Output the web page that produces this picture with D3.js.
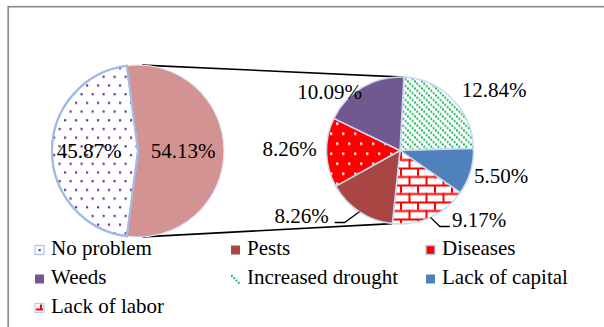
<!DOCTYPE html>
<html>
<head>
<meta charset="utf-8">
<script src="https://cdn.jsdelivr.net/npm/d3@7"></script>
<style>
  html, body { margin: 0; padding: 0; background: #fff; }
  svg { display: block; }
</style>
</head>
<body>
<svg id="chart" width="604" height="327"></svg>
<script>
// Problems reported by respondents (percent of all respondents)
const categories = ["No problem", "Pests", "Diseases", "Weeds", "Increased drought", "Lack of capital", "Lack of labor"];
const shares = [45.87, 8.26, 8.26, 10.09, 12.84, 5.50, 9.17];

// Main pie: "No problem" against all reported problems combined
const mainCategories = ["No problem", "Problems"];
const mainShares = [45.87, 54.13];

// Order of slices in the breakdown pie, clockwise from the top
const secondaryOrder = ["Increased drought", "Lack of capital", "Lack of labor", "Pests", "Diseases", "Weeds"];

const FONT = "Liberation Serif";
const svg = d3.select("#chart");
const defs = svg.append("defs");

// ---- fill patterns ----
function pattern(id, w, h, bg) {
  const p = defs.append("pattern").attr("id", id).attr("patternUnits", "userSpaceOnUse")
    .attr("width", w).attr("height", h);
  p.append("rect").attr("width", w).attr("height", h).attr("fill", bg);
  return p;
}
// purple dots on white
const pDots = pattern("dots-purple", 11, 17.4, "#fff");
[[3, 3], [8.5, 11.7]].forEach(([x, y]) => pDots.append("rect").attr("x", x).attr("y", y).attr("width", 2.2).attr("height", 2.2).attr("fill", "#7030a0"));
// white dots on red
const pRed = pattern("dots-red", 12, 20, "#ff0000");
[[2, 2], [8, 12]].forEach(([x, y]) => pRed.append("rect").attr("x", x).attr("y", y).attr("width", 2.4).attr("height", 2.4).attr("fill", "#fff"));
// green dashed diagonals
const pGreen = pattern("diag-green", 7, 7, "#fff");
[0, 2.33, 4.67].forEach(o => pGreen.append("rect").attr("x", o).attr("y", o).attr("width", 1.9).attr("height", 1.9).attr("fill", "#00b050"));
// red bricks
const pBrick = pattern("brick-red", 17, 17, "#fff");
pBrick.append("rect").attr("x", 0).attr("y", 0).attr("width", 17).attr("height", 2).attr("fill", "#ff0000");
pBrick.append("rect").attr("x", 0).attr("y", 8.5).attr("width", 17).attr("height", 2).attr("fill", "#ff0000");
pBrick.append("rect").attr("x", 0).attr("y", 0).attr("width", 2).attr("height", 8.5).attr("fill", "#ff0000");
pBrick.append("rect").attr("x", 8.5).attr("y", 8.5).attr("width", 2).attr("height", 8.5).attr("fill", "#ff0000");

const fills = {
  "No problem": "url(#dots-purple)",
  "Problems": "#d39393",
  "Pests": "#a94643",
  "Diseases": "url(#dots-red)",
  "Weeds": "#71588f",
  "Increased drought": "url(#diag-green)",
  "Lack of capital": "#4f81bd",
  "Lack of labor": "url(#brick-red)"
};

// ---- frame ----
svg.append("rect").attr("x", 8.2).attr("y", 6.7).attr("width", 800).attr("height", 500)
  .attr("fill", "none").attr("stroke", "#8c8c8c").attr("stroke-width", 1.7);

// ---- geometry ----
const main = { cx: 138, cy: 151, r: 86 };
const sub = { cx: 400, cy: 150.5, r: 73.5 };
const toRad = Math.PI / 180;
const pct = d => d3.format(".2f")(d) + "%";
const shareOf = name => shares[categories.indexOf(name)];

// main pie: the combined "Problems" slice is centred on the right, facing the breakdown
const problemsFrac = mainShares[1] / d3.sum(mainShares);
const mainStart = Math.PI / 2 + problemsFrac * Math.PI;
const mainPie = d3.pie().sort(null).startAngle(mainStart).endAngle(mainStart + 2 * Math.PI);
const mainArcs = mainPie(mainShares);
const mainArc = d3.arc().innerRadius(0).outerRadius(main.r);

// breakdown pie
const subStart = 3 * toRad;
const subValues = secondaryOrder.map(shareOf);
const subPie = d3.pie().sort(null).startAngle(subStart).endAngle(subStart + 2 * Math.PI);
const subArcs = subPie(subValues);
const subArc = d3.arc().innerRadius(0).outerRadius(sub.r);

const polar = (c, r, a) => [c.cx + r * Math.sin(a), c.cy - r * Math.cos(a)];

// connector lines: from the breakdown pie's slice boundaries, tangent to the main pie
function tangentPoint(p, sign) {
  const dx = p[0] - main.cx, dy = p[1] - main.cy;
  const d = Math.hypot(dx, dy);
  const base = Math.atan2(dy, dx);
  const off = Math.acos(main.r / d);
  const a = base + sign * off;
  return [main.cx + main.r * Math.cos(a), main.cy + main.r * Math.sin(a)];
}
const topEnd = polar(sub, sub.r, subArcs[0].startAngle);
const labIdx = secondaryOrder.indexOf("Lack of labor");
const botEnd = polar(sub, sub.r, subArcs[labIdx].endAngle);
const topStart = tangentPoint(topEnd, -1);
const botStart = tangentPoint(botEnd, 1);
svg.append("line").attr("x1", topStart[0]).attr("y1", topStart[1]).attr("x2", topEnd[0]).attr("y2", topEnd[1])
  .attr("stroke", "#000").attr("stroke-width", 1.6);
svg.append("line").attr("x1", botStart[0]).attr("y1", botStart[1]).attr("x2", botEnd[0]).attr("y2", botEnd[1])
  .attr("stroke", "#000").attr("stroke-width", 1.6);

// ---- main pie slices ----
const gMain = svg.append("g").attr("transform", `translate(${main.cx},${main.cy})`);
gMain.selectAll("path").data(mainArcs).join("path")
  .attr("d", mainArc)
  .attr("fill", (d, i) => fills[mainCategories[i]])
  .attr("stroke", (d, i) => i === 0 ? "#9fbbe6" : "#dfe7f5")
  .attr("stroke-width", (d, i) => i === 0 ? 2 : 1.2);
// redraw the "No problem" outline on top so the blue edge stays visible
gMain.append("path").attr("d", mainArc(mainArcs[0])).attr("fill", "none").attr("stroke", "#9fbbe6").attr("stroke-width", 2);

// ---- breakdown pie slices ----
const gSub = svg.append("g").attr("transform", `translate(${sub.cx},${sub.cy})`);
gSub.selectAll("path").data(subArcs).join("path")
  .attr("d", subArc)
  .attr("fill", (d, i) => fills[secondaryOrder[i]])
  .attr("stroke", "#cbd8ee")
  .attr("stroke-width", 1.5);

// ---- data labels ----
function label(x, y, txt, anchor) {
  return svg.append("text").attr("x", x).attr("y", y).attr("text-anchor", anchor || "middle")
    .style("font-family", FONT).attr("font-size", 21).attr("fill", "#000").text(txt);
}
// label anchors relative to each pie's centre (text centre x, baseline y)
const mainLabelOffsets = [[-49, 7], [45, 7]];
mainArcs.forEach((d, i) => {
  label(main.cx + mainLabelOffsets[i][0], main.cy + mainLabelOffsets[i][1], pct(mainShares[i]));
});

const subLabelOffsets = {
  "Increased drought": [94, -53.5],
  "Lack of capital": [101, 32.5],
  "Lack of labor": [79, 76],
  "Pests": [-98.5, 72],
  "Diseases": [-110.3, 5.5],
  "Weeds": [-70.5, -51.5]
};
// slices whose labels are tied to the slice by a leader line
const leaders = { "Pests": -1, "Lack of labor": 1 };

subArcs.forEach((d, i) => {
  const name = secondaryOrder[i];
  const off = subLabelOffsets[name];
  const lx = sub.cx + off[0], ly = sub.cy + off[1];
  const t = label(lx, ly, pct(shareOf(name)));
  if (name in leaders) {
    const side = leaders[name];
    const w = t.node().getComputedTextLength();
    const mid = (d.startAngle + d.endAngle) / 2;
    const rim = polar(sub, sub.r, mid);
    const endX = side < 0 ? lx + w / 2 + 6 : lx - w / 2 - 2;
    const elbowX = endX - side * 10;
    svg.append("polyline")
      .attr("points", [[rim[0], rim[1]], [elbowX, ly], [endX, ly]].map(p => p.join(",")).join(" "))
      .attr("fill", "none").attr("stroke", "#000").attr("stroke-width", 1.3);
  }
});

// ---- legend ----
const legendCols = [35, 231, 426];
const legendRows = [255, 284, 313];
const markerSize = 9;
const legend = svg.append("g");
categories.forEach((name, i) => {
  const col = i % 3, row = Math.floor(i / 3);
  const x = legendCols[col], y = legendRows[row];
  const g = legend.append("g").attr("transform", `translate(${x},${y - markerSize - 0.5})`);
  if (name === "No problem") {
    g.append("rect").attr("width", markerSize).attr("height", markerSize).attr("fill", "#fff").attr("stroke", "#a9c2e8").attr("stroke-width", 1.2);
    g.append("rect").attr("x", 3.5).attr("y", 3.5).attr("width", 2.2).attr("height", 2.2).attr("fill", "#7030a0");
  } else if (name === "Diseases") {
    g.append("rect").attr("width", markerSize).attr("height", markerSize).attr("fill", "#ff0000").attr("stroke", "#b9cdea").attr("stroke-width", 1.4);
  } else if (name === "Increased drought") {
    [0, 2.3, 4.6, 6.9].forEach(o => g.append("rect").attr("x", o).attr("y", o + 0.5).attr("width", 1.8).attr("height", 1.8).attr("fill", "#00b050"));
  } else if (name === "Lack of labor") {
    g.append("rect").attr("width", markerSize).attr("height", markerSize).attr("fill", "#fff").attr("stroke", "#b9cdea").attr("stroke-width", 1.2);
    g.append("rect").attr("x", 1).attr("y", 5).attr("width", 7).attr("height", 2).attr("fill", "#ff0000");
    g.append("rect").attr("x", 5).attr("y", 1).attr("width", 2).attr("height", 5).attr("fill", "#ff0000");
  } else {
    g.append("rect").attr("width", markerSize).attr("height", markerSize).attr("fill", fills[name]);
  }
  label(x + 16, y, name, "start");
});
</script>
</body>
</html>
